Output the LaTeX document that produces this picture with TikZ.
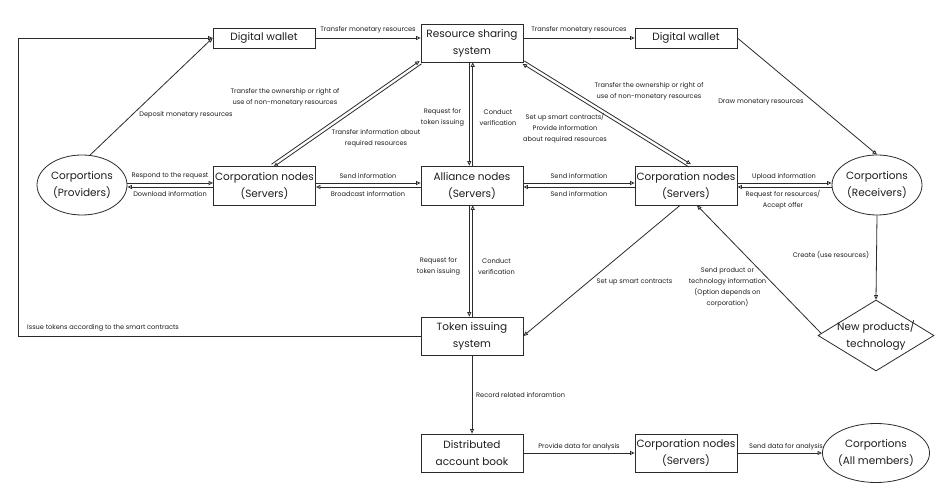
\documentclass[tikz,border=0pt]{standalone}
\usepackage{fontspec}
\setmainfont{Poppins}
\usetikzlibrary{arrows.meta,shapes.geometric,calc}
\definecolor{lc}{HTML}{2B2B2B}
\definecolor{tc}{HTML}{1E1E1E}
\begin{document}
\begin{tikzpicture}[x=1pt,y=-1pt,
  box/.style={draw=lc, line width=0.8pt, minimum width=102pt, minimum height=38pt, inner sep=0pt, align=center, font=\fontsize{10.5}{17}\selectfont, text=tc},
  oval/.style={ellipse, draw=lc, line width=0.8pt, minimum width=90pt, minimum height=60pt, inner sep=0pt, align=center, font=\fontsize{10.5}{17}\selectfont, text=tc},
  lbl/.style={font=\fontsize{6.6}{11}\selectfont, text=tc, inner sep=0pt, align=center},
  conn/.style={draw=lc, line width=0.8pt},
  arr/.style={conn, -{Triangle[open,length=4.5pt,width=4pt]}}
]
\useasboundingbox (0,0) rectangle (946,494);
\fill[white] (0,0) rectangle (946,494);
% nodes
\node[box, minimum height=20pt] (dwl) at (264,38) {Digital wallet};
\node[box] (rss) at (472,43) {Resource sharing\\system};
\node[box, minimum height=20pt] (dwr) at (686,38) {Digital wallet};
\node[oval] (prov) at (82,185) {Corportions\\(Providers)};
\node[box, minimum height=39pt] (cl) at (264.5,185.5) {Corporation nodes\\(Servers)};
\node[box, minimum height=39pt] (an) at (472,185.5) {Alliance nodes\\(Servers)};
\node[box, minimum height=39pt] (cr) at (686,185.5) {Corporation nodes\\(Servers)};
\node[oval] (recv) at (877,185) {Corportions\\(Receivers)};
\node[box] (tis) at (472,336) {Token issuing\\system};
\node[diamond, draw=lc, line width=0.8pt, minimum width=116pt, minimum height=71pt, inner sep=0pt] (np) at (876,335.5) {};
\node[align=center, inner sep=0pt, font=\fontsize{10.5}{17}\selectfont, text=tc] (nptext) at (np.center) {New products/\\technology};
\node[box] (dab) at (472,453) {Distributed\\account book};
\node[box] (cb) at (686,453) {Corporation nodes\\(Servers)};
\node[oval, minimum width=91pt, minimum height=59pt] (allm) at (876,453) {Corportions\\(All members)};
% left loop
\coordinate (lc1) at (18,336);
\draw[arr] (tis.west) -- (lc1) |- (dwl.west);
\node[lbl, anchor=west] (lissue) at (27,328) {Issue tokens according to the smart contracts};
% top row
\draw[arr] (prov.75) -- (dwl.west);
\node[lbl] (ldep) at (186,115) {Deposit monetary resources};
\draw[arr] (dwl.east) -- (dwl.east -| rss.west);
\node[lbl] (ltm1) at (368,30) {Transfer monetary resources};
\draw[arr] (rss.east |- dwr.west) -- (dwr.west);
\node[lbl] (ltm2) at (579,30) {Transfer monetary resources};
\draw[arr] (dwr.east) -- (recv.north);
\node[lbl] (ldraw) at (761,102) {Draw monetary resources};
% double diagonal left
\coordinate (a6) at ($(cl.north)+(8,0)$);
\coordinate (b6) at (rss.south west);
\draw[arr] ($(a6)!1.7pt!90:(b6)$) -- ($(b6)!1.7pt!-90:(a6)$);
\draw[arr] ($(b6)!1.7pt!90:(a6)$) -- ($(a6)!1.7pt!-90:(b6)$);
\node[lbl] (lto1) at (285,97.5) {Transfer the ownership or right of\\use of non-monetary resources};
\node[lbl] (ltia) at (376,138.5) {Transfer information about\\required resources};
% double vertical top
\coordinate (a7) at ($(rss.south)+(-1,0)$);
\coordinate (b7) at ($(an.north)+(-1,0)$);
\draw[arr] ($(b7)!1.7pt!-90:(a7)$) -- ($(a7)!1.7pt!90:(b7)$);
\draw[arr] ($(a7)!1.7pt!-90:(b7)$) -- ($(b7)!1.7pt!90:(a7)$);
\node[lbl] (lrft1) at (442.5,117.5) {Request for\\token issuing};
\node[lbl] (lcv1) at (498,117.5) {Conduct\\verification};
% double diagonal right
\coordinate (a8) at (rss.south east);
\coordinate (b8) at ($(cr.north)+(4,0)$);
\draw[arr] ($(a8)!1.7pt!90:(b8)$) -- ($(b8)!1.7pt!-90:(a8)$);
\draw[arr] ($(b8)!1.7pt!90:(a8)$) -- ($(a8)!1.7pt!-90:(b8)$);
\node[lbl] (lto2) at (649,91.5) {Transfer the ownership or right of\\use of non-monetary resources};
\node[lbl] (lsup) at (565,128) {Set up smart contracts/\\Provide information\\about required resources};
% middle row
\draw[arr] ($(prov.east)+(0,-2)$) -- ($(cl.west)+(0,-2.5)$);
\draw[arr] ($(cl.west)+(0,1.5)$) -- ($(prov.east)+(0,2)$);
\node[lbl] (lresp) at (170,176) {Respond to the request};
\node[lbl] (ldl) at (170,194) {Download information};
\draw[arr] ($(cl.east)+(0,-2.5)$) -- ($(an.west)+(0,-2.5)$);
\draw[arr] ($(an.west)+(0,1.5)$) -- ($(cl.east)+(0,1.5)$);
\node[lbl] (lsi1) at (368,176) {Send information};
\node[lbl] (lbi) at (368,194) {Broadcast information};
\draw[arr] ($(an.east)+(0,-2.5)$) -- ($(cr.west)+(0,-2.5)$);
\draw[arr] ($(cr.west)+(0,1.5)$) -- ($(an.east)+(0,1.5)$);
\node[lbl] (lsi2) at (579,176) {Send information};
\node[lbl] (lsi3) at (579,194) {Send information};
\draw[arr] ($(cr.east)+(0,-2.5)$) -- ($(recv.west)+(0,-2)$);
\draw[arr] ($(recv.west)+(0,2)$) -- ($(cr.east)+(0,1.5)$);
\node[lbl] (lup) at (784,177) {Upload information};
\node[lbl] (lrfr) at (783,199.5) {Request for resources/\\Accept offer};
% double vertical bottom
\coordinate (a13) at ($(an.south)+(-1,0)$);
\coordinate (b13) at ($(tis.north)+(-1,0)$);
\draw[arr] ($(b13)!1.7pt!-90:(a13)$) -- ($(a13)!1.7pt!90:(b13)$);
\draw[arr] ($(a13)!1.7pt!-90:(b13)$) -- ($(b13)!1.7pt!90:(a13)$);
\node[lbl] (lrft2) at (438.5,266.5) {Request for\\token issuing};
\node[lbl] (lcv2) at (496.5,266.5) {Conduct\\verification};
% diagonals to/from cr
\draw[arr] ($(cr.south)+(-6,0)$) -- (tis.east);
\node[lbl] (lsus) at (634.5,282) {Set up smart contracts};
\draw[arr] ($(np.west)!0.06!(np.north)$) -- ($(cr.south)+(11,0)$);
\node[lbl] (lspt) at (727.5,287.5) {Send product or\\technology information\\(Option depends on\\corporation)};
\draw[arr] (recv.south) -- (np.north);
\node[lbl] (lcreate) at (831,255) {Create (use resources)};
% bottom row
\draw[arr] (tis.south) -- (dab.north);
\node[lbl, anchor=west] (lrec) at (476,395) {Record related inforamtion};
\draw[arr] (dab.east) -- (cb.west);
\node[lbl] (lpda) at (579,447) {Provide data for analysis};
\draw[arr] (cb.east) -- (allm.west);
\node[lbl] (lsda) at (786,447) {Send data for analysis};
\end{tikzpicture}
\end{document}
